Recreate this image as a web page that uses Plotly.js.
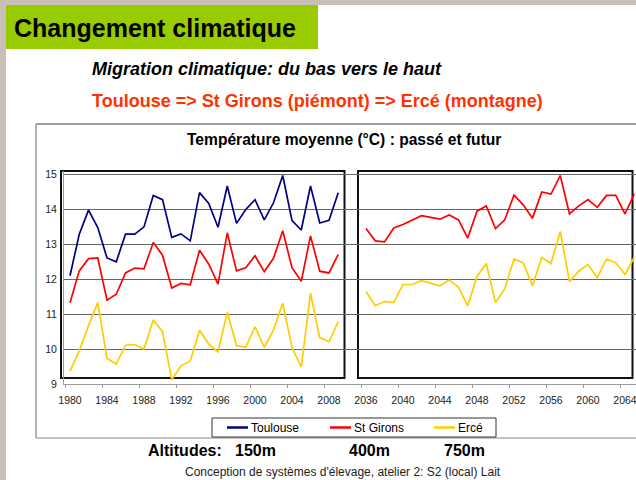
<!DOCTYPE html>
<html><head><meta charset="utf-8">
<script src="https://cdn.plot.ly/plotly-3.0.1.min.js"></script>
<style>html,body{margin:0;padding:0;background:#fff;overflow:hidden}</style>
</head><body><div id="chart" style="width:636px;height:480px"></div>
<script>
// ---- data ----
const pastYears = [1980,1981,1982,1983,1984,1985,1986,1987,1988,1989,1990,1991,1992,1993,1994,1995,1996,1997,1998,1999,2000,2001,2002,2003,2004,2005,2006,2007,2008,2009];
const futureYears = [2036,2037,2038,2039,2040,2041,2042,2043,2044,2045,2046,2047,2048,2049,2050,2051,2052,2053,2054,2055,2056,2057,2058,2059,2060,2061,2062,2063,2064,2065];
const toulousePast = [12.10,13.29,13.98,13.48,12.61,12.50,13.29,13.29,13.50,14.40,14.28,13.20,13.30,13.10,14.48,14.17,13.49,14.67,13.60,14.00,14.28,13.70,14.19,14.97,13.68,13.41,14.67,13.61,13.69,14.48];
const stGironsPast = [11.33,12.24,12.59,12.61,11.40,11.57,12.18,12.32,12.30,13.05,12.69,11.75,11.88,11.84,12.83,12.43,11.86,13.33,12.24,12.33,12.67,12.22,12.60,13.39,12.33,11.94,13.24,12.23,12.18,12.71];
const stGironsFuture = [13.45,13.10,13.07,13.47,13.57,13.69,13.82,13.77,13.72,13.84,13.70,13.18,13.95,14.10,13.45,13.70,14.41,14.13,13.75,14.50,14.44,14.97,13.87,14.10,14.28,14.06,14.40,14.40,13.87,14.44];
const ercePast = [9.37,9.95,10.67,11.33,9.73,9.57,10.11,10.13,10.00,10.83,10.50,9.12,9.52,9.66,10.54,10.14,9.92,11.05,10.10,10.05,10.64,10.05,10.55,11.31,10.05,9.48,11.60,10.33,10.21,10.79];
const erceFuture = [11.65,11.24,11.36,11.34,11.85,11.85,11.96,11.89,11.81,11.98,11.77,11.24,12.08,12.45,11.33,11.73,12.58,12.47,11.81,12.63,12.45,13.37,11.94,12.23,12.42,12.04,12.58,12.47,12.14,12.63];
const tickLabels = ['1980','1984','1988','1992','1996','2000','2004','2008','2036','2040','2044','2048','2052','2056','2060','2064'];
const seriesNames = ['Toulouse','St Girons','Ercé'];
const seriesColors = ['#000080','#ff0000','#ffcc00'];
const altitudes = ['150m','400m','750m'];

// ---- layout helpers ----
const W = 636, H = 480;
const M = {l:64, r:0, t:171, b:96};
const PW = W - M.l - M.r, PH = H - M.t - M.b;
const px = x => (x - M.l) / PW;          // pixel -> paper x
const py = y => (H - M.b - y) / PH;      // pixel -> paper y
const GAP = 2;                            // empty category slots between periods
const pastSlot = pastYears.map((y,i) => i);
const futureSlot = futureYears.map((y,i) => pastYears.length + GAP + i);
const slotOf = lbl => {
  const y = +lbl; const i = pastYears.indexOf(y);
  return i >= 0 ? pastSlot[i] : futureSlot[futureYears.indexOf(y)];
};
const xRange = [-0.65, 61.19];

const font = 'Arial, "Liberation Sans", sans-serif';
const LW = 1.7;

const traces = [
  {x: pastSlot, y: toulousePast, name: seriesNames[0], legendgroup:'t', type:'scatter', mode:'lines', line:{color:seriesColors[0], width:LW}},
  {x: pastSlot, y: stGironsPast, name: seriesNames[1], legendgroup:'s', type:'scatter', mode:'lines', line:{color:seriesColors[1], width:LW}},
  {x: futureSlot, y: stGironsFuture, name: seriesNames[1], legendgroup:'s', showlegend:false, type:'scatter', mode:'lines', line:{color:seriesColors[1], width:LW}},
  {x: pastSlot, y: ercePast, name: seriesNames[2], legendgroup:'e', type:'scatter', mode:'lines', line:{color:seriesColors[2], width:LW}},
  {x: futureSlot, y: erceFuture, name: seriesNames[2], legendgroup:'e', showlegend:false, type:'scatter', mode:'lines', line:{color:seriesColors[2], width:LW}}
];

const rect = (x0,y0,x1,y1,opt) => Object.assign({type:'rect', xref:'paper', yref:'paper', x0:px(x0), x1:px(x1), y0:py(y0), y1:py(y1), layer:'below'}, opt);
const seg = (x0,y0,x1,y1,color,width,layer) => ({type:'line', xref:'paper', yref:'paper', x0:px(x0), x1:px(x1), y0:py(y0), y1:py(y1), layer:layer||'below', line:{color:color, width:width}});
const ann = (text,x,y,opt) => Object.assign({text:text, xref:'paper', yref:'paper', x:px(x), y:py(y), showarrow:false, xanchor:'left', yanchor:'middle', font:{family:font, size:12, color:'#000'}}, opt);

// legend (drawn as a framed key below the plot)
const legendX = [227, 330, 434];
const legendY = 427.5;
const legendShapes = [rect(212,418,496,437,{fillcolor:'#fff', line:{color:'#333', width:1}, layer:'above'})]
  .concat(seriesNames.map((n,i) => seg(legendX[i], legendY, legendX[i]+21, legendY, seriesColors[i], 2.5, 'above')));
const legendAnns = seriesNames.map((n,i) => ann(n, legendX[i]+22, legendY, {font:{family:font, size:12, color:'#000'}}));

const altX = [233, 347, 442];

const layout = {
  width: W, height: H,
  margin: M,
  paper_bgcolor: '#ffffff',
  plot_bgcolor: 'rgba(0,0,0,0)',
  showlegend: false,
  xaxis: {range: xRange, showgrid:false, zeroline:false, showline:true, linecolor:'#9a9a9a', linewidth:1,
          tickmode:'array', tickvals: tickLabels.map(slotOf), ticktext: tickLabels,
          ticks:'outside', ticklen:6, tickcolor:'rgba(0,0,0,0)', ticklabeloverflow:'allow',
          minor:{tickmode:'array', tickvals: tickLabels.map(l => slotOf(l) - 0.5), ticks:'outside', ticklen:3, tickcolor:'#9a9a9a', showgrid:false},
          tickfont:{family:font, size:10.5, color:'#222'}, fixedrange:true},
  yaxis: {range:[9, 15.1], tick0:9, dtick:1, showgrid:true, gridcolor:'#666', gridwidth:1,
          zeroline:false, showline:true, linecolor:'#9a9a9a', linewidth:1,
          ticks:'outside', ticklen:4, tickcolor:'rgba(0,0,0,0)',
          tickfont:{family:font, size:10.5, color:'#222'}, fixedrange:true},
  shapes: [
    rect(0,0,6,480,{fillcolor:'#c8c0b8', line:{width:0}}),
    rect(0,0,636,5,{fillcolor:'#c8c0b8', line:{width:0}}),
    rect(6,5,318,49,{fillcolor:'#99cc00', line:{width:0}}),
    seg(36,124,640,124,'#a0a0a0',2),
    seg(36,124,36,438,'#666',1),
    seg(36,438,640,438,'#888',1),
    rect(61,171,344.5,378,{line:{color:'#111', width:2}}),
    rect(358,171,632.5,378,{line:{color:'#111', width:2}})
  ].concat(legendShapes),
  annotations: [
    ann('<b>Changement climatique</b>', 12, 28, {font:{family:font, size:25, color:'#000'}}),
    ann('<b><i>Migration climatique: du bas vers le haut</i></b>', 90, 69, {font:{family:font, size:18, color:'#000'}}),
    ann('<b>Toulouse => St Girons (piémont) => Ercé (montagne)</b>', 90, 101, {font:{family:font, size:18, color:'#ff3300'}}),
    ann('<b>Température moyenne (°C) : passé et futur</b>', 343.5, 140, {xanchor:'center', font:{family:font, size:15.6, color:'#000'}}),
    ann('<b>Altitudes:</b>', 146, 450, {font:{family:font, size:16, color:'#000'}})
  ].concat(altitudes.map((a,i) => ann('<b>'+a+'</b>', altX[i], 450, {font:{family:font, size:16, color:'#000'}})))
   .concat(legendAnns)
   .concat([ann("Conception de systèmes d'élevage, atelier 2: S2 (local) Lait", 343, 472, {xanchor:'center', font:{family:font, size:12, color:'#222'}})])
};

Plotly.newPlot('chart', traces, layout, {displayModeBar:false, staticPlot:true});
</script>
</body></html>
